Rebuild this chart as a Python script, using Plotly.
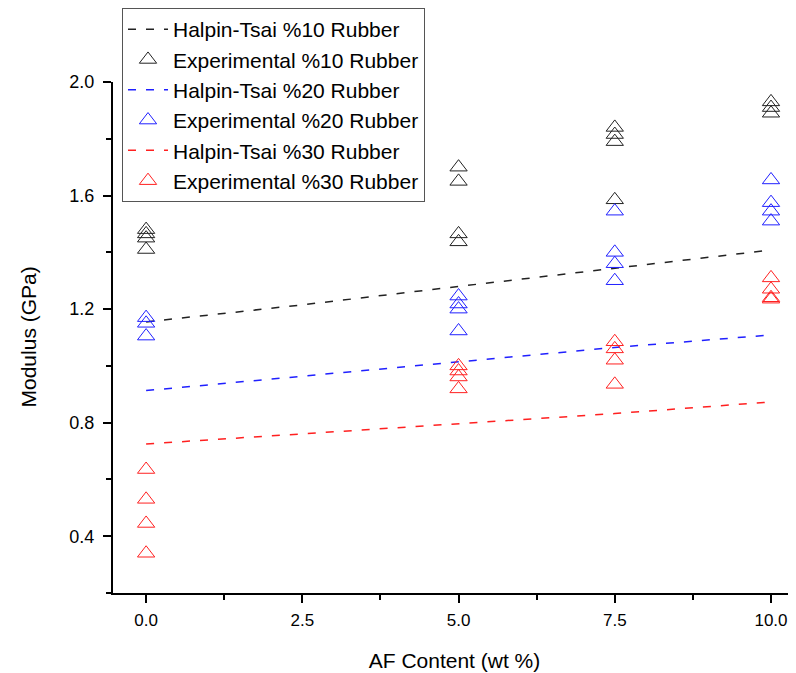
import plotly.graph_objects as go

# Halpin-Tsai model curves
ht_x = [0, 2.5, 5, 7.5, 10]
ht_10 = [1.155, 1.215, 1.28, 1.345, 1.408]
ht_20 = [0.913, 0.963, 1.015, 1.065, 1.109]
ht_30 = [0.725, 0.760, 0.797, 0.832, 0.873]

# Experimental points
exp10_x = [0, 0, 0, 0, 5, 5, 5, 5, 7.5, 7.5, 7.5, 7.5, 10, 10, 10]
exp10_y = [1.48, 1.465, 1.45, 1.41, 1.70, 1.65, 1.465, 1.437, 1.84, 1.815, 1.79, 1.585, 1.93, 1.91, 1.89]
exp20_x = [0, 0, 0, 5, 5, 5, 5, 7.5, 7.5, 7.5, 7.5, 10, 10, 10, 10]
exp20_y = [1.17, 1.15, 1.105, 1.246, 1.218, 1.20, 1.123, 1.545, 1.40, 1.36, 1.30, 1.655, 1.575, 1.545, 1.51]
exp30_x = [0, 0, 0, 0, 5, 5, 5, 5, 7.5, 7.5, 7.5, 7.5, 10, 10, 10, 10]
exp30_y = [0.635, 0.53, 0.445, 0.34, 1.0, 0.982, 0.961, 0.919, 1.085, 1.06, 1.02, 0.935, 1.31, 1.27, 1.24, 1.235]

names_ht = ["Halpin-Tsai %10 Rubber", "Halpin-Tsai %20 Rubber", "Halpin-Tsai %30 Rubber"]
names_exp = ["Experimental %10 Rubber", "Experimental %20 Rubber", "Experimental %30 Rubber"]
colors = ["#222222", "#2020ff", "#ff2020"]

fig = go.Figure()
for ht, ex, ey, nh, ne, c in zip(
    [ht_10, ht_20, ht_30],
    [exp10_x, exp20_x, exp30_x],
    [exp10_y, exp20_y, exp30_y],
    names_ht, names_exp, colors,
):
    fig.add_trace(go.Scatter(
        x=ht_x, y=ht, mode="lines", name=nh,
        line=dict(color=c, width=1.5, dash="8px,10px"),
    ))
    fig.add_trace(go.Scatter(
        x=ex, y=ey, mode="markers", name=ne,
        marker=dict(symbol="triangle-up-open", size=15, color=c, line=dict(width=1)),
    ))

font_main = "Liberation Sans, Arial, sans-serif"

W, H = 788, 665
fig.update_layout(
    width=W, height=H,
    margin=dict(l=105, r=0, t=74, b=80, autoexpand=False),
    plot_bgcolor="white", paper_bgcolor="white",
    font=dict(family=font_main, color="black"),
    showlegend=True,
    legend=dict(
        xref="container", yref="container",
        x=(122 - 8) / W, y=1.0, xanchor="left", yanchor="top",
        bordercolor="#555555", borderwidth=1, bgcolor="white",
        font=dict(family=font_main, size=21, color="black"),
        tracegroupgap=0, itemwidth=40,
    ),
    xaxis=dict(
        range=[-0.53, 10.4],
        tickmode="linear", tick0=0, dtick=2.5, tickformat=".1f",
        ticks="outside", ticklen=8, tickwidth=1.5, tickcolor="black",
        minor=dict(ticks="outside", dtick=1.25, tick0=0, ticklen=5, tickwidth=1.5, tickcolor="black"),
        showline=True, linecolor="black", linewidth=2,
        showgrid=False, zeroline=False, ticklabelstandoff=3,
        tickfont=dict(family=font_main, size=17, color="black"),
        title=dict(text="AF Content (wt %)", font=dict(family=font_main, size=21, color="black"), standoff=24),
    ),
    yaxis=dict(
        range=[0.2, 2.0],
        tickmode="linear", tick0=0.4, dtick=0.4, tickformat=".1f",
        ticks="outside", ticklen=8, tickwidth=1.5, tickcolor="black",
        minor=dict(ticks="outside", dtick=0.2, tick0=0.2, ticklen=5, tickwidth=1.5, tickcolor="black"),
        showline=True, linecolor="black", linewidth=2,
        showgrid=False, zeroline=False, ticklabelstandoff=5,
        tickfont=dict(family=font_main, size=18, color="black"),
    ),
    annotations=[dict(
        text="Modulus (GPa)", xref="paper", yref="paper",
        x=(20 - 105) / 683, y=0.5, xanchor="center", yanchor="middle",
        textangle=-90, showarrow=False,
        font=dict(family=font_main, size=21, color="black"),
    )],
)

fig.write_html("out.html")
